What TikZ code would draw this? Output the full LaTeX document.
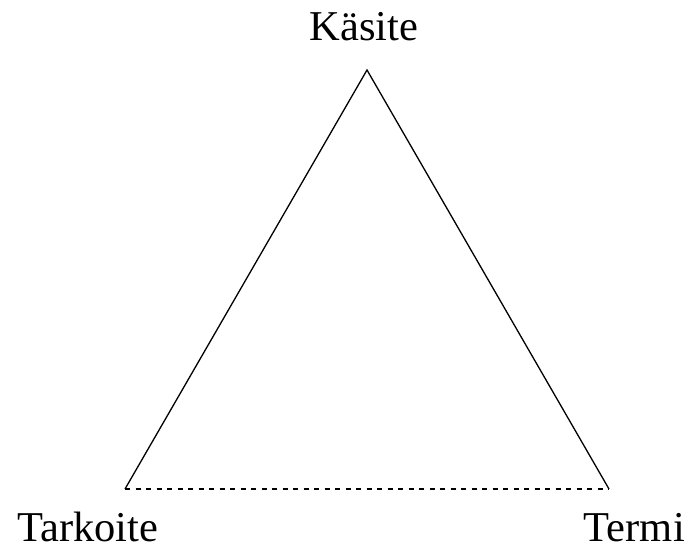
\documentclass[tikz,border=0pt]{standalone}
\usepackage{fontspec}
\setmainfont{Liberation Serif}
\begin{document}
\begin{tikzpicture}[x=1pt,y=-1pt,
  lbl/.style={inner sep=0pt,font=\fontsize{42.5}{42.5}\selectfont},
  edge/.style={line width=1.3pt},
  dashedge/.style={line width=1.3pt,dash pattern=on 5pt off 5.5pt}]
\useasboundingbox (0,0) rectangle (689,547);
\coordinate (A) at (367,70);
\coordinate (L) at (125,489);
\coordinate (R) at (609,489);
\draw[edge,line join=miter] (L) -- (A) -- (R);
\draw[dashedge] (L) -- (R);
\node[lbl,anchor=base] (k) at (364,40) {Käsite};
\node[lbl,anchor=base west] (t) at (17,541) {Tarkoite};
\node[lbl,anchor=base east] (m) at (685,541) {Termi};
\end{tikzpicture}
\end{document}
